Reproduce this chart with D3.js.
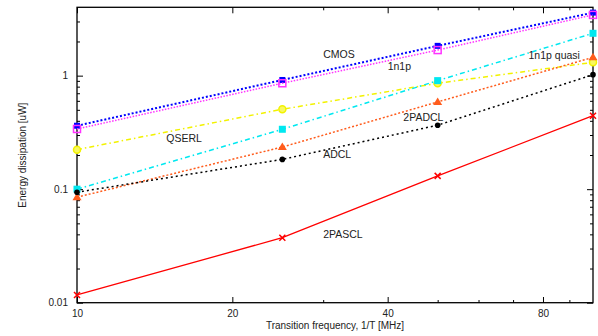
<!DOCTYPE html>
<html>
<head>
<meta charset="utf-8">
<script src="https://cdn.jsdelivr.net/npm/d3@7"></script>
<style>
    body { margin: 0; background: #fff; }
    text { font-family: "Liberation Sans", Arial, sans-serif; fill: #222; }
</style>
</head>
<body>
<div id="chart"></div>
<script>

var svgWidth = 598;
var svgHeight = 336;

var margin = { top: 7.3, right: 5, bottom: 33, left: 77 };

var width = svgWidth - margin.left - margin.right;
var height = svgHeight - margin.top - margin.bottom;

// data
var freqs = [10, 25, 50, 100];
var cmos = [0.362, 0.916, 1.83, 3.59];
var n1p = [0.339, 0.857, 1.68, 3.43];
var qserl = [0.223, 0.506, 0.857, 1.31];
var n1pQuasi = [0.1, 0.337, 0.904, 2.36];
var padcl = [0.085, 0.235, 0.587, 1.45];
var adcl = [0.094, 0.183, 0.366, 1.02];
var pascl = [0.0117, 0.0374, 0.131, 0.444];

var xMajor = [10, 20, 40, 80];
var xMinor = [30, 50, 60, 70, 90];
var yMajor = [0.01, 0.1, 1];
var yMinor = [0.02, 0.03, 0.04, 0.05, 0.06, 0.07, 0.08, 0.09,
    0.2, 0.3, 0.4, 0.5, 0.6, 0.7, 0.8, 0.9, 2, 3];

var labelNames = ["CMOS", "1n1p", "1n1p quasi", "QSERL", "2PADCL", "ADCL", "2PASCL"];
var labelFreq = [30, 40, 75, 14.9, 42.9, 30, 30];
var labelEnergy = [1.43, 1.12, 1.40, 0.26, 0.399, 0.188, 0.037];

var series = [
    { values: cmos, color: "#0000ff", dash: "2,2", width: 2, marker: "fsquare" },
    { values: n1p, color: "#ff33ff", dash: "1.5,1.5", width: 1.5, marker: "osquare" },
    { values: qserl, color: "#f2f200", dash: "5,3,1.5,3", width: 1.5, marker: "circle" },
    { values: n1pQuasi, color: "#00e8f0", dash: "5,3,1.5,3", width: 1.5, marker: "bsquare" },
    { values: padcl, color: "#ff5c1c", dash: "2,2", width: 1.5, marker: "triangle" },
    { values: adcl, color: "#000000", dash: "2,3", width: 1.5, marker: "dot" },
    { values: pascl, color: "#ff0000", dash: null, width: 1.3, marker: "cross" }
];

var svg = d3.select("#chart")
    .append("svg")
    .attr("width", svgWidth)
    .attr("height", svgHeight);

var chartGroup = svg.append("g")
    .attr("transform", `translate(${margin.left}, ${margin.top})`);

var xScale = d3.scaleLog().domain([10, 100]).range([0, 516]);
var yScale = d3.scaleLog().domain([0.01, 4]).range([295.4, 0]);

function addAxis(axis, transform, isMajor, showText) {
    var g = chartGroup.append("g")
        .attr("transform", transform)
        .call(axis);
    g.select(".domain").remove();
    g.selectAll("line").attr("stroke", "#000");
    g.selectAll("text")
        .attr("font-size", "10px")
        .attr("fill", "#222")
        .style("display", showText ? null : "none");
    return g;
}

// bottom / top x ticks (pointing inwards)
addAxis(d3.axisBottom(xScale).tickValues(xMajor).tickFormat(d3.format("d"))
    .tickSizeInner(-6).tickSizeOuter(0).tickPadding(7), `translate(0, ${height})`, true, true);
addAxis(d3.axisBottom(xScale).tickValues(xMinor).tickFormat("")
    .tickSizeInner(-3).tickSizeOuter(0), `translate(0, ${height})`, false, false);
addAxis(d3.axisTop(xScale).tickValues(xMajor).tickFormat("")
    .tickSizeInner(-6).tickSizeOuter(0), "translate(0, 0)", true, false);
addAxis(d3.axisTop(xScale).tickValues(xMinor).tickFormat("")
    .tickSizeInner(-3).tickSizeOuter(0), "translate(0, 0)", false, false);

// left / right y ticks
addAxis(d3.axisLeft(yScale).tickValues(yMajor).tickFormat(d => d3.format("")(d))
    .tickSizeInner(-6).tickSizeOuter(0).tickPadding(9), "translate(0, 0)", true, true);
addAxis(d3.axisLeft(yScale).tickValues(yMinor).tickFormat("")
    .tickSizeInner(-3).tickSizeOuter(0), "translate(0, 0)", false, false);
addAxis(d3.axisRight(yScale).tickValues(yMajor).tickFormat("")
    .tickSizeInner(-6).tickSizeOuter(0), `translate(${width}, 0)`, true, false);
addAxis(d3.axisRight(yScale).tickValues(yMinor).tickFormat("")
    .tickSizeInner(-3).tickSizeOuter(0), `translate(${width}, 0)`, false, false);

// frame
chartGroup.append("rect")
    .attr("x", 0)
    .attr("y", 0)
    .attr("width", xScale(100))
    .attr("height", yScale(0.01))
    .attr("fill", "none")
    .attr("stroke", "#000")
    .attr("stroke-width", 1.3);

var line = d3.line()
    .x(d => xScale(d[0]))
    .y(d => yScale(d[1]));

series.forEach(s => {
    var pts = freqs.map((f, i) => [f, s.values[i]]);
    chartGroup.append("path")
        .datum(pts)
        .attr("fill", "none")
        .attr("stroke", s.color)
        .attr("stroke-width", s.width)
        .attr("stroke-dasharray", s.dash)
        .attr("d", line);

    var marks = chartGroup.selectAll(null)
        .data(pts)
        .enter()
        .append("g")
        .attr("transform", d => `translate(${xScale(d[0])}, ${yScale(d[1])})`);

    if (s.marker === "fsquare") {
        marks.append("rect").attr("x", -3).attr("y", -3).attr("width", 6).attr("height", 6)
            .attr("fill", s.color);
    } else if (s.marker === "osquare") {
        marks.append("rect").attr("x", -3.5).attr("y", -3.5).attr("width", 7).attr("height", 7)
            .attr("fill", "none").attr("stroke", s.color).attr("stroke-width", 1.5);
    } else if (s.marker === "bsquare") {
        marks.append("rect").attr("x", -3.5).attr("y", -3.5).attr("width", 7).attr("height", 7)
            .attr("fill", s.color);
    } else if (s.marker === "circle") {
        marks.append("circle").attr("r", 3.5)
            .attr("fill", "#f8f860").attr("stroke", s.color).attr("stroke-width", 1.5);
    } else if (s.marker === "triangle") {
        marks.append("path").attr("d", "M0,-4.5L4.5,3L-4.5,3Z").attr("fill", s.color);
    } else if (s.marker === "dot") {
        marks.append("circle").attr("r", 2.8).attr("fill", s.color);
    } else {
        marks.append("path").attr("d", "M-3,-3L3,3M-3,3L3,-3")
            .attr("stroke", s.color).attr("stroke-width", 1.5);
    }
});

// curve labels
chartGroup.selectAll(".curveLabel")
    .data(labelNames)
    .enter()
    .append("text")
    .classed("curveLabel", true)
    .attr("x", (d, i) => xScale(labelFreq[i]))
    .attr("y", (d, i) => yScale(labelEnergy[i]))
    .attr("font-size", "10.5px")
    .text(d => d);

// axis titles
chartGroup.append("text")
    .attr("x", width / 2)
    .attr("y", height + 26)
    .attr("text-anchor", "middle")
    .attr("font-size", "10px")
    .text("Transition frequency, 1/T [MHz]");

chartGroup.append("text")
    .attr("transform", `translate(${22 - margin.left}, ${height / 2}) rotate(-90)`)
    .attr("dy", "0.35em")
    .attr("text-anchor", "middle")
    .attr("font-size", "10px")
    .text("Energy dissipation [uW]");

</script>
</body>
</html>
